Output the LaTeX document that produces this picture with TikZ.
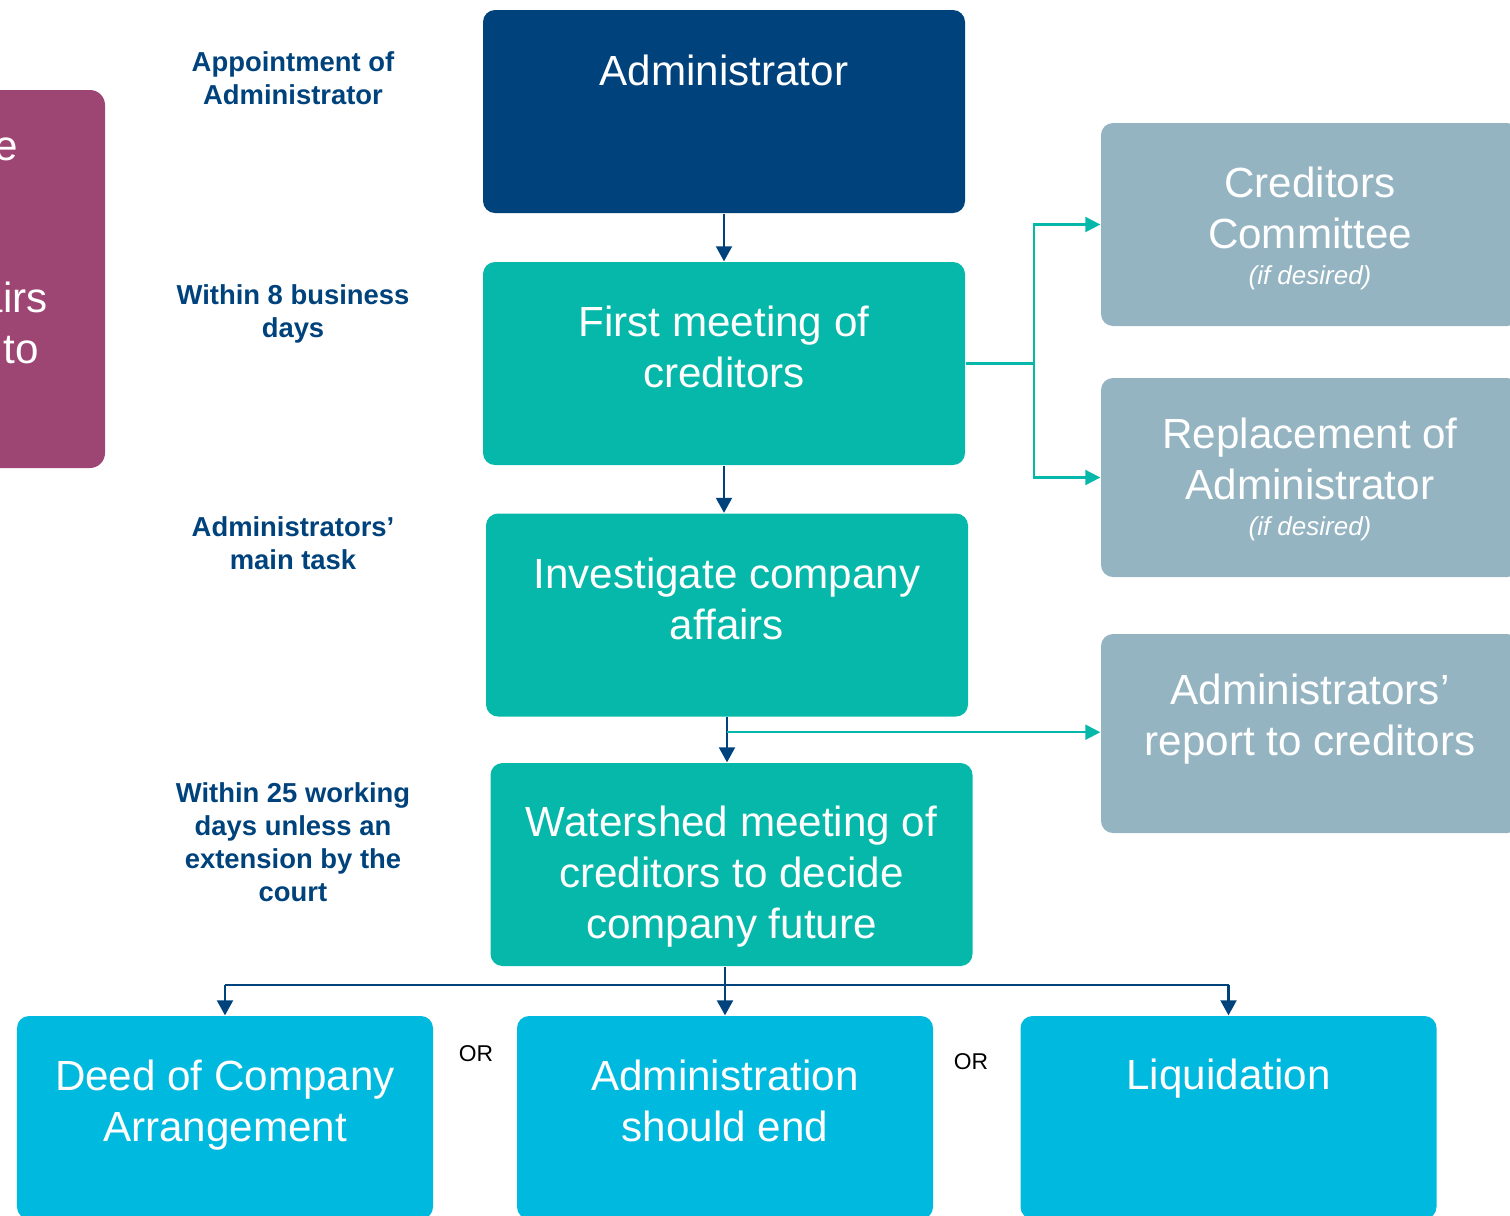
\documentclass[tikz,border=0pt]{standalone}
\usepackage{fontspec}
\setmainfont{Liberation Sans}
\usetikzlibrary{arrows.meta,positioning}
\definecolor{navy}{HTML}{00427B}
\definecolor{tealbox}{HTML}{05B8A9}
\definecolor{cyanbox}{HTML}{00B9DF}
\definecolor{greybox}{HTML}{95B4C2}
\definecolor{plum}{HTML}{9E4673}

\begin{document}
\begin{tikzpicture}[
  box/.style={rounded corners=0.12cm, minimum width=4.82cm, minimum height=2.03cm, inner sep=0pt},
  boxtext/.style={text=white, align=center, font=\fontsize{12}{14.5}\selectfont},
  note/.style={text=white, font=\fontsize{7.4}{9}\selectfont\itshape},
  side/.style={text=navy, align=center, font=\fontsize{7.8}{9.4}\selectfont\bfseries},
  down/.style={draw=navy, line width=0.6pt, -{Triangle[length=0.15cm,width=0.16cm]}},
  branch/.style={draw=tealbox, line width=0.6pt, -{Triangle[length=0.15cm,width=0.15cm]}}
]
\useasboundingbox (0,0) rectangle (15.1,-12.15);
\clip (0,0) rectangle (15.1,-12.15);

% box on the left, cut off
\fill[plum, rounded corners=0.15cm] (-2,-0.9) rectangle (1.05,-4.68);
\node[boxtext, anchor=base east] (plum-a) at (0.30,-1.6) {e};
\node[boxtext, anchor=base east] (plum-b) at (0.60,-3.12) {affairs};
\node[boxtext, anchor=base east] (plum-c) at (0.51,-3.63) {to};

% main column
\node[box, fill=navy] (admin) at (7.24,-1.115) {};
\node[boxtext] (admin-t) at ([yshift=0.415cm]admin.center) {Administrator};
\node[box, fill=tealbox] (meet) at (7.24,-3.635) {};
\node[boxtext] (meet-t) at ([yshift=0.165cm]meet.center) {First meeting of\\creditors};
\node[box, fill=tealbox] (inv) at (7.27,-6.15) {};
\node[boxtext] (inv-t) at ([yshift=0.165cm]inv.center) {Investigate company\\affairs};
\node[box, fill=tealbox] (wat) at (7.315,-8.645) {};
\node[boxtext] (wat-t) at ([yshift=-0.125cm]wat.center) {Watershed meeting of\\creditors to decide\\company future};

% outcomes
\node[box, fill=cyanbox, minimum width=4.16cm] (deed) at (2.25,-11.175) {};
\node[boxtext] (deed-t) at ([yshift=0.125cm]deed.center) {Deed of Company\\Arrangement};
\node[box, fill=cyanbox, minimum width=4.16cm] (aend) at (7.25,-11.175) {};
\node[boxtext] (aend-t) at ([yshift=0.165cm]aend.center) {Administration\\should end};
\node[box, fill=cyanbox, minimum width=4.16cm] (liq) at (12.285,-11.175) {};
\node[boxtext] (liq-t) at ([yshift=0.385cm]liq.center) {Liquidation};
\node[font=\fontsize{6.5}{8}\selectfont] (or-a) at (4.76,-10.54) {OR};
\node[font=\fontsize{6.5}{8}\selectfont] (or-b) at (9.71,-10.62) {OR};

% boxes on the right
\node[box, fill=greybox, minimum width=4.18cm] (comm) at (13.10,-2.245) {};
\node[boxtext] (comm-t) at ([yshift=0.17cm]comm.center) {Creditors\\Committee};
\node[note] (comm-n) at ([yshift=-0.535cm]comm.center) {(if desired)};
\node[box, fill=greybox, minimum width=4.18cm, minimum height=1.99cm] (repl) at (13.10,-4.775) {};
\node[boxtext] (repl-t) at ([yshift=0.185cm]repl.center) {Replacement of\\Administrator};
\node[note] (repl-n) at ([yshift=-0.515cm]repl.center) {(if desired)};
\node[box, fill=greybox, minimum width=4.18cm, minimum height=1.99cm] (rep) at (13.10,-7.335) {};
\node[boxtext] (rep-t) at ([yshift=0.14cm]rep.center) {Administrators’\\report to creditors};

% time labels
\node[side] (lbl-a) at (2.93,-0.785) {Appointment of\\Administrator};
\node[side] (lbl-b) at (2.93,-3.135) {Within 8 business\\days};
\node[side] (lbl-c) at (2.93,-5.43) {Administrators’\\main task};
\node[side] (lbl-d) at (2.93,-8.425) {Within 25 working\\days unless an\\extension by the\\court};

% arrows down
\draw[down] (admin.south) -- (meet.north);
\draw[down] (meet.south) -- (meet.south |- inv.north);
\draw[down] (inv.south) -- (inv.south |- wat.north);

% branches to the right
\draw[branch] (meet.east) -- ++(0.68,0) |- (comm.west);
\draw[branch] (meet.east) -- ++(0.68,0) |- (repl.west);
\coordinate (split) at ([yshift=-0.15cm]inv.south);
\draw[branch] (split) -- (split -| rep.west);

% outcome bus
\coordinate (bus) at ([yshift=-0.18cm]wat.south -| aend.north);
\draw[navy, line width=0.6pt] (wat.south -| aend.north) -- (bus);
\draw[navy, line width=0.6pt] (bus -| deed.north) -- (bus -| liq.north);
\draw[down] (bus) -- (aend.north);
\draw[down] (bus -| deed.north) -- (deed.north);
\draw[down] (bus -| liq.north) -- (liq.north);
\end{tikzpicture}
\end{document}
